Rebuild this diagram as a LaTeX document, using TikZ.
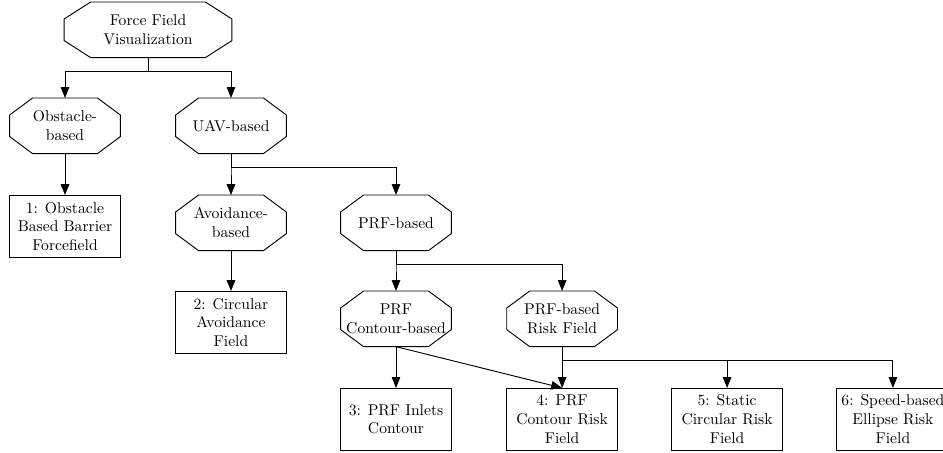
\documentclass[tikz,border=0pt]{standalone}
\usepackage{tikz}
\usetikzlibrary{arrows.meta}

% octagon outline round a named node: #1 = node, #2 = horizontal chamfer
\newcommand{\drawocta}[2]{%
    \draw[semithick] ([xshift=#2]#1.north west) -- ([xshift=-#2]#1.north east)
        -- ([yshift=-10.9pt]#1.north east) -- ([yshift=10.9pt]#1.south east)
        -- ([xshift=-#2]#1.south east) -- ([xshift=#2]#1.south west)
        -- ([yshift=10.9pt]#1.south west) -- ([yshift=-10.9pt]#1.north west) -- cycle;}

\begin{document}
\begin{tikzpicture}[
        octa/.style={rectangle, minimum width=70.5pt, minimum height=35.2pt,
            inner sep=3pt, align=center, anchor=north},
        leaf/.style={draw, semithick, rectangle, minimum width=71pt, minimum height=39.5pt,
            align=center, anchor=north},
        link/.style={semithick, -{Triangle[length=7pt,width=5.5pt]}}
    ]

            \useasboundingbox (-1.462,0.045) rectangle (19.746,-10.143);

            \node[octa, minimum width=107pt] (root) at (1.867,0) {Force Field\\Visualization};

            \node[octa] (obst) at (0,-2.159) {Obstacle-\\based};
            \node[octa] (uav) at (3.733,-2.159) {UAV-based};

            \node[leaf] (ff1) at (0,-4.341) {1: Obstacle\\Based Barrier\\Forcefield};
            \node[octa] (avoid) at (3.733,-4.341) {Avoidance-\\based};
            \node[octa] (prf) at (7.444,-4.341) {PRF-based};

            \node[leaf] (ff2) at (3.733,-6.50) {2: Circular\\Avoidance\\Field};
            \node[octa] (contour) at (7.444,-6.50) {PRF\\Contour-based};
            \node[octa] (risk) at (11.18,-6.50) {PRF-based\\Risk Field};

            \node[leaf] (ff3) at (7.444,-8.68) {3: PRF Inlets\\Contour};
            \node[leaf] (ff4) at (11.18,-8.68) {4: PRF\\Contour Risk\\Field};
            \node[leaf] (ff5) at (14.89,-8.68) {5: Static\\Circular Risk\\Field};
            \node[leaf] (ff6) at (18.62,-8.68) {6: Speed-based\\Ellipse Risk\\Field};

            \drawocta{root}{17pt}
            \drawocta{obst}{14.7pt}
            \drawocta{uav}{14.7pt}
            \drawocta{avoid}{14.7pt}
            \drawocta{prf}{14.7pt}
            \drawocta{contour}{14.7pt}
            \drawocta{risk}{14.7pt}

            \draw[link] (root.south) -- ++(0,-0.32) -| (obst.north);
            \draw[link] (root.south) -- ++(0,-0.32) -| (uav.north);

            \draw[link] (obst.south) -- (ff1.north);

            \draw[link] (uav.south) -- ++(0,-0.3) -| (avoid.north);
            \draw[link] (uav.south) -- ++(0,-0.3) -| (prf.north);

            \draw[link] (avoid.south) -- (ff2.north);

            \draw[link] (prf.south) -- ++(0,-0.3) -| (contour.north);
            \draw[link] (prf.south) -- ++(0,-0.3) -| (risk.north);

            \draw[link] (contour.south) -- (ff3.north);
            \draw[link] (contour.south) -- (ff4.north);

            \draw[link] (risk.south) -- ++(0,-0.3) -| (ff4.north);
            \draw[link] (risk.south) -- ++(0,-0.3) -| (ff5.north);
            \draw[link] (risk.south) -- ++(0,-0.3) -| (ff6.north);

\end{tikzpicture}
\end{document}
